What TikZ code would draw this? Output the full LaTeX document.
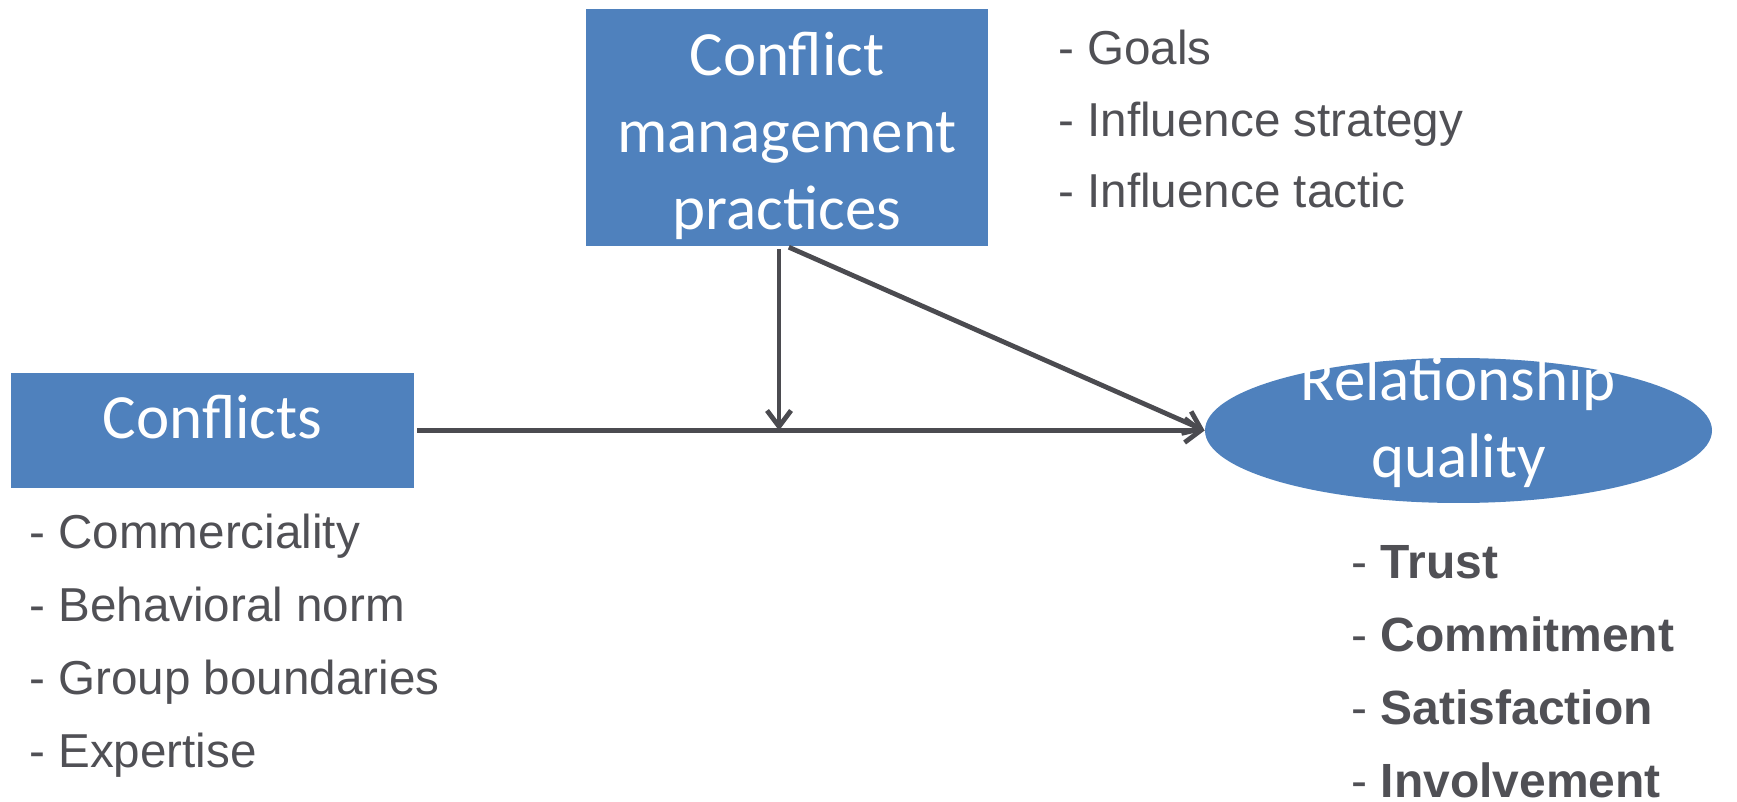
\documentclass[tikz,border=0pt]{standalone}
\usepackage{fontspec}
\setmainfont{Liberation Sans}
\newfontfamily\boxfont{Carlito}
\usetikzlibrary{shapes.geometric,positioning,arrows.meta}
\definecolor{boxblue}{HTML}{4F81BD}
\definecolor{linegray}{HTML}{4B4B50}
\definecolor{textgray}{HTML}{505055}

\begin{document}
\begin{tikzpicture}[x=0.5pt, y=-0.5pt,
  block/.style = {rectangle, fill=boxblue, text=white, align=center, inner sep=0pt,
                  font=\boxfont\fontsize{31.5}{38.5}\selectfont},
  oval/.style = {ellipse, fill=boxblue, text=white, align=center, inner sep=0pt,
                 font=\boxfont\fontsize{31.5}{38.5}\selectfont},
  items/.style = {anchor=base west, align=left, inner sep=0pt, text=textgray,
                  font=\fontsize{23.8}{36.5}\selectfont},
  link/.style = {draw=linegray, line width=2.4pt, -{Straight Barb[length=8pt, width=12pt]}}]

\useasboundingbox (0,0) rectangle (1737,802);

% Nodes
\node (mgmt) [block, minimum width=201pt, minimum height=118.5pt, text height=102.5pt, text depth=0pt]
  at (787,127.5) {Conflict\\management\\practices};
\node (conflicts) [block, minimum width=201.5pt, minimum height=57.5pt, text height=8.5pt, text depth=0pt]
  at (212.5,430.5) {Conflicts};
\node (quality) [oval, minimum width=253.5pt, minimum height=72.5pt, text height=47pt, text depth=-11pt]
  at (1458.5,430.5) {Relationship\\quality};

\node (practices) [items, font=\fontsize{23.8}{35.75}\selectfont] at (1058,208)
  {- Goals\\- Influence strategy\\- Influence tactic};
\node (sources) [items] at (29,767)
  {- Commerciality\\- Behavioral norm\\- Group boundaries\\- Expertise};
\node (facets) [items, font=\fontsize{24}{36.5}\selectfont] at (1351,797)
  {- \textbf{Trust}\\- \textbf{Commitment}\\- \textbf{Satisfaction}\\- \textbf{Involvement}};

\coordinate (meet) at (779,430.5);

% Arrows
\draw [link, shorten <=1.5pt] (conflicts.east) -- (quality.west);
\draw [link, shorten <=1.5pt] (mgmt.south -| meet) -- (meet);
\draw [link, shorten <=1pt] (mgmt.south) -- (quality.west);
\end{tikzpicture}
\end{document}
